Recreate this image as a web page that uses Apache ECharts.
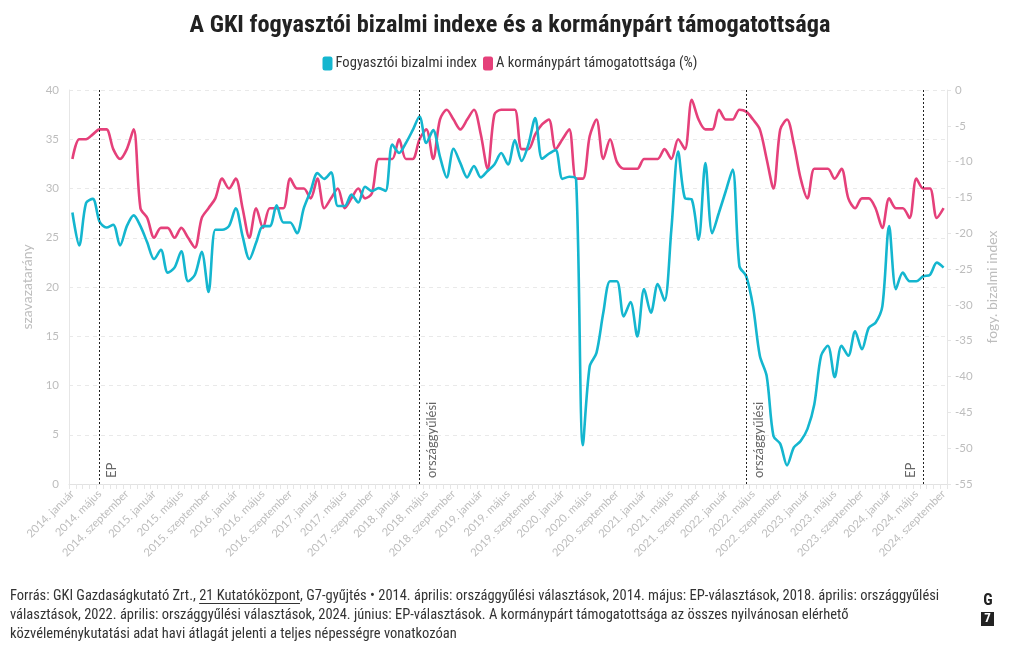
<!DOCTYPE html>
<html><head><meta charset="utf-8">
<script src="https://cdn.jsdelivr.net/npm/echarts@6/dist/echarts.min.js"></script>
<style>html,body{margin:0;padding:0;background:#fff}#c{width:1020px;height:650px}</style>
</head><body><div id="c"></div>
<script>
// ---- data ----
const years = [2014, 2015, 2016, 2017, 2018, 2019, 2020, 2021, 2022, 2023, 2024];
const monthNames = ['január', 'február', 'március', 'április', 'május', 'június', 'július', 'augusztus', 'szeptember', 'október', 'november', 'december'];
const lastCategory = '2024. szeptember';
const categories = [];
outer: for (const y of years) { for (const m of monthNames) { categories.push(y + '. ' + m); if (y + '. ' + m === lastCategory) break outer; } }

// Fogyasztói bizalmi index (right axis)
const bizalmiIndex = [
  -17.1, -21.7, -15.8, -15.2, -18.4, -19.2, -18.8, -21.7, -19.0, -17.5, -19.0, -21.3,
  -23.6, -22.3, -25.5, -24.8, -22.5, -26.7, -25.8, -22.6, -28.2, -19.5, -19.5, -19.0,
  -16.5, -20.4, -23.6, -21.3, -19.0, -19.0, -16.1, -18.5, -18.5, -20.0, -16.5, -14.1,
  -11.6, -12.4, -11.5, -16.2, -16.2, -14.6, -15.7, -13.5, -14.1, -13.7, -14.1, -7.6,
  -8.8, -7.4, -5.6, -3.7, -7.4, -5.6, -9.3, -12.2, -8.2, -10.2, -12.2, -10.6,
  -12.2, -11.3, -10.4, -8.8, -10.4, -7.0, -9.9, -7.6, -3.9, -9.6, -8.9, -8.4,
  -12.4, -12.1, -12.4, -49.6, -38.6, -36.7, -31.1, -26.7, -26.7, -31.6, -29.6, -34.4,
  -27.8, -31.1, -27.1, -29.4, -19.5, -8.6, -15.1, -15.3, -20.9, -10.2, -20.0, -17.1,
  -14.1, -11.1, -24.6, -26.0, -30.2, -37.1, -39.9, -48.3, -49.4, -52.4, -49.9, -49.0,
  -47.3, -43.9, -37.1, -35.7, -40.1, -35.7, -37.1, -33.7, -36.2, -33.2, -32.5, -30.2,
  -19.0, -27.8, -25.5, -26.7, -26.7, -26.0, -25.8, -24.1, -24.8
];
// A kormánypárt támogatottsága (%) (left axis)
const tamogatottsag = [
  33, 35, 35, 35.5, 36, 36, 34, 33, 34, 36, 28, 27,
  25, 26, 26, 25, 26, 25, 24, 27, 28, 29, 31, 30,
  31, 28, 25, 28, 26, 28, 28, 28, 31, 30, 30, 29,
  31, 28, 29, 30, 28, 29, 30, 29, 29.5, 33, 33, 33,
  35, 33, 33, 35, 36, 33, 37, 38, 37, 36, 37, 38,
  35.5, 32, 37.5, 38, 38, 38, 34, 34, 35.5, 36.5, 37, 34,
  35, 36, 31, 31, 35.3, 37, 33, 35, 32.7, 32, 32, 32,
  33, 33, 33, 34, 33, 35, 34, 39, 37, 36, 36, 38,
  37, 37, 38, 37.8, 37, 36, 33, 30, 36, 37, 34.5, 31,
  29, 32, 32, 32, 31, 32, 29, 28, 29, 29, 28, 26,
  29, 28, 28, 27, 31, 30, 30, 27, 28
];
const leftAxis = { min: 0, max: 40, interval: 5 };
const rightAxis = { min: -55, max: 0, interval: 5 };
const events = [
  { month: '2014. május', label: 'EP', side: 'right' },
  { month: '2018. április', label: 'országgyűlési', side: 'right' },
  { month: '2022. április', label: 'országgyűlési', side: 'right' },
  { month: '2024. június', label: 'EP', side: 'left' }
];
const seriesNames = ['Fogyasztói bizalmi index', 'A kormánypárt támogatottsága (%)'];
const titleText = 'A GKI fogyasztói bizalmi indexe és a kormánypárt támogatottsága';
const footerPre = 'Forrás: GKI Gazdaságkutató Zrt., ';
const footerLink = '21 Kutatóközpont';
const footerRest1 = ', G7-gyűjtés • 2014. április: országgyűlési választások, 2014. május: EP-választások, 2018. április: országgyűlési';
const footerLine2 = 'választások, 2022. április: országgyűlési választások, 2024. június: EP-választások. A kormánypárt támogatottsága az összes nyilvánosan elérhető';
const footerLine3 = 'közvéleménykutatási adat havi átlagát jelenti a teljes népességre vonatkozóan';

// ---- style ----
const FONT = "'Roboto Condensed', 'Noto Sans', sans-serif";
const FONT2 = "Lato, 'Noto Sans', sans-serif";
const CYAN = '#14b6cf';
const PINK = '#e5407a';
const AXIS_TXT = '#bdbdbd';
const FOOT_SIZE = 14.5;

const cv = document.createElement('canvas').getContext('2d');
cv.font = FOOT_SIZE + 'px ' + FONT;
const wPre = cv.measureText(footerPre).width;
const wLink = cv.measureText(footerLink).width;

const chart = echarts.init(document.getElementById('c'), null, { renderer: 'canvas' });
const FOOT_X = 10, FOOT_Y = 587, LH = 19;

chart.setOption({
  animation: false,
  textStyle: { fontFamily: FONT },
  title: {
    text: titleText, left: 'center', top: 9,
    textStyle: { fontSize: 24.3, fontWeight: 'bold', color: '#222', fontFamily: FONT }
  },
  legend: {
    top: 51, left: 'center', itemWidth: 10, itemHeight: 14, itemGap: 6,
    icon: 'roundRect',
    textStyle: { fontSize: 14.6, color: '#333', padding: [0, 0, 0, -2] },
    data: seriesNames
  },
  grid: { left: 69, right: 73, top: 90, bottom: 166, containLabel: false },
  xAxis: {
    type: 'category', data: categories, boundaryGap: true,
    axisLine: { lineStyle: { color: '#e2e2e2' } },
    axisTick: { show: true, interval: 0, length: 5, lineStyle: { color: '#e6e6e6' } },
    axisLabel: { interval: 3, rotate: 45, color: AXIS_TXT, fontSize: 11.2, fontFamily: FONT2, margin: 8 },
    splitLine: { show: false }
  },
  yAxis: [
    {
      type: 'value', position: 'left', min: leftAxis.min, max: leftAxis.max, interval: leftAxis.interval,
      name: 'szavazatarány', nameLocation: 'middle', nameGap: 22,
      nameTextStyle: { color: AXIS_TXT, fontSize: 14, fontFamily: FONT2 },
      axisLine: { show: true, lineStyle: { color: '#e6e6e6' } },
      axisTick: { show: false },
      axisLabel: { color: AXIS_TXT, fontSize: 11.5, fontFamily: FONT2, margin: 10 },
      splitLine: { show: true, lineStyle: { color: '#e9e9e9', type: [4, 4] } }
    },
    {
      type: 'value', position: 'right', min: rightAxis.min, max: rightAxis.max, interval: rightAxis.interval,
      name: 'fogy. bizalmi index', nameLocation: 'middle', nameGap: 38, nameRotate: 90,
      nameTextStyle: { color: AXIS_TXT, fontSize: 14, fontFamily: FONT2 },
      axisLine: { show: true, lineStyle: { color: '#e6e6e6' } },
      axisTick: { show: true, length: 4, lineStyle: { color: '#e6e6e6' } },
      axisLabel: { color: AXIS_TXT, fontSize: 11.5, fontFamily: FONT2, margin: 8 },
      splitLine: { show: false }
    }
  ],
  series: [
    {
      name: seriesNames[0], type: 'line', yAxisIndex: 1, data: bizalmiIndex,
      smooth: 0.3, showSymbol: false, z: 4,
      lineStyle: { width: 2.6, color: CYAN }, itemStyle: { color: CYAN }
    },
    {
      name: seriesNames[1], type: 'line', yAxisIndex: 0, data: tamogatottsag,
      smooth: 0.3, showSymbol: false, z: 3,
      lineStyle: { width: 2.6, color: PINK }, itemStyle: { color: PINK },
      markLine: {
        silent: true, symbol: 'none', animation: false,
        lineStyle: { color: '#222', type: [2, 2], width: 1 },
        label: { color: '#666', fontSize: 13, fontFamily: FONT2, distance: 6 },
        data: events.map(e => ({
          xAxis: e.month,
          label: { formatter: e.label, position: e.side === 'left' ? 'insideStartTop' : 'insideStartBottom' }
        }))
      }
    }
  ],
  graphic: [
    {
      type: 'text', left: FOOT_X, top: FOOT_Y,
      style: {
        text: footerPre + footerLink + footerRest1 + '\n' + footerLine2 + '\n' + footerLine3,
        font: FOOT_SIZE + 'px ' + FONT, fill: '#333', lineHeight: LH
      }
    },
    {
      type: 'line', shape: { x1: FOOT_X + wPre, y1: FOOT_Y + 16.5, x2: FOOT_X + wPre + wLink, y2: FOOT_Y + 16.5 },
      style: { stroke: '#333', lineWidth: 1 }
    },
    { type: 'text', x: 988, y: 593, style: { text: 'G', font: 'bold 16px ' + FONT, fill: '#222', align: 'center' } },
    { type: 'rect', shape: { x: 981, y: 612, width: 13, height: 14 }, style: { fill: '#222' } },
    { type: 'text', x: 987.5, y: 612, style: { text: '7', font: 'bold 13px ' + FONT, fill: '#fff', align: 'center' } }
  ]
});
</script>
</body></html>
